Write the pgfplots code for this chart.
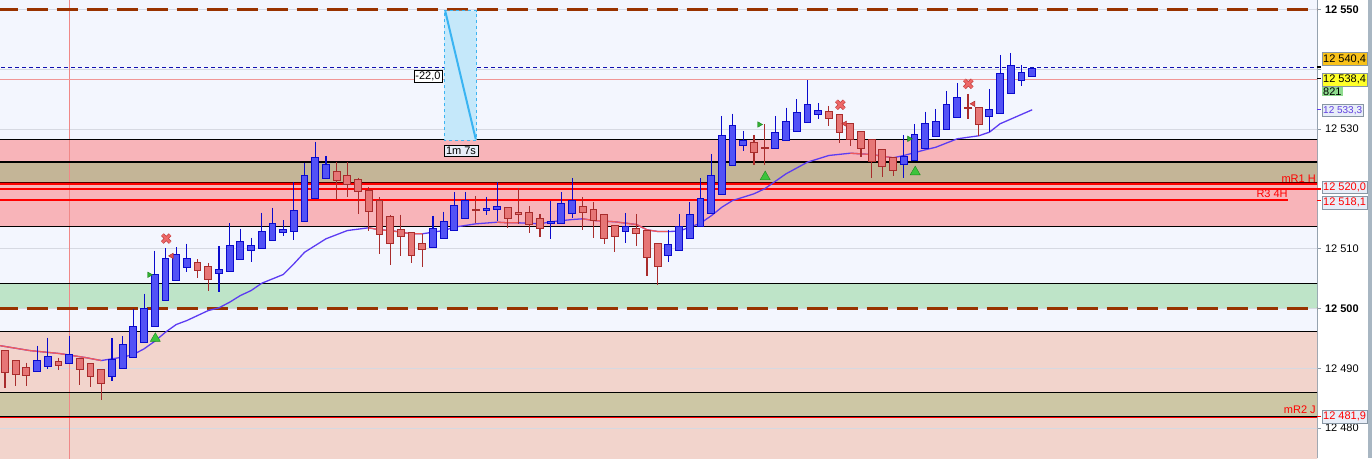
\documentclass[border=0pt]{standalone}
\usepackage{pgfplots}
\pgfplotsset{compat=1.18}
\usepackage{pgfplotstable}
\usepackage{fontspec}
\setmainfont{Liberation Sans}

\definecolor{bgc}{HTML}{F3F6FE}
\definecolor{pinkz}{HTML}{F8B4B9}
\definecolor{tanz}{HTML}{C4B597}
\definecolor{greenz}{HTML}{BEE4C8}
\definecolor{salmz}{HTML}{F2D4CC}
\definecolor{khakz}{HTML}{CDC7A5}
\definecolor{gridc}{HTML}{D6D9E2}
\definecolor{upfill}{HTML}{5252F6}
\definecolor{upline}{HTML}{0A0ACC}
\definecolor{dnfill}{HTML}{E67676}
\definecolor{dnline}{HTML}{A82C2C}
\definecolor{maup}{HTML}{5C3CF2}
\definecolor{madn}{HTML}{F05A5A}
\definecolor{lvl}{HTML}{993300}
\definecolor{axisc}{HTML}{8896A4}
\definecolor{boxbg}{HTML}{E8EEF8}
\definecolor{annfill}{HTML}{C5E8FA}
\definecolor{annline}{HTML}{3AB4F2}
\definecolor{scrollc}{HTML}{A8B6C2}

% candle pieces: lengths come in pt (price span times 5.9803pt per point)
\pgfdeclareplotmark{cwick}{%
  \pgfpathmoveto{\pgfpointorigin}%
  \pgfpathlineto{\pgfpoint{0pt}{-\wlen pt}}%
  \pgfusepathqstroke}
\pgfdeclareplotmark{cbody}{%
  \pgfpathrectanglecorners{\pgfpoint{-3.4pt}{0.5pt}}{\pgfpoint{3.4pt}{-\blen pt-0.5pt}}%
  \pgfusepathqfillstroke}

% bullish candles (blue)
\pgfplotstableread{
i O H L C
3 12489.58 12493.80 12489.35 12491.25
4 12490.42 12495.15 12489.85 12491.92
6 12490.92 12495.48 12490.90 12492.26
10 12488.74 12495.04 12487.84 12491.42
11 12490.08 12495.32 12490.00 12493.93
12 12491.92 12499.88 12491.90 12496.94
13 12494.43 12502.50 12494.40 12500.00
14 12497.10 12509.70 12497.00 12505.63
15 12501.39 12510.08 12501.30 12508.31
16 12504.80 12510.25 12504.80 12508.98
17 12506.97 12510.87 12506.07 12508.31
20 12505.97 12510.37 12502.72 12506.47
21 12506.31 12514.22 12506.30 12510.49
22 12508.31 12513.37 12508.30 12511.16
23 12509.82 12511.87 12507.74 12510.49
24 12510.15 12516.05 12510.10 12512.83
25 12511.48 12516.89 12511.40 12514.16
26 12512.83 12514.72 12512.16 12513.16
27 12512.99 12521.19 12511.48 12516.34
28 12514.66 12524.41 12514.60 12522.19
29 12518.51 12527.88 12518.50 12525.20
30 12521.86 12525.54 12521.80 12524.03
40 12510.32 12515.50 12510.30 12513.33
41 12511.82 12516.22 12511.80 12514.50
42 12513.16 12519.51 12513.10 12517.17
43 12515.17 12519.51 12515.00 12518.00
45 12516.50 12518.68 12515.66 12516.70
46 12516.67 12521.19 12514.66 12517.00
51 12514.33 12518.00 12511.66 12514.50
52 12514.33 12519.51 12514.30 12517.50
53 12516.00 12521.86 12515.17 12518.00
58 12513.00 12516.00 12510.99 12513.66
62 12508.98 12513.16 12507.81 12510.65
63 12509.82 12515.83 12509.80 12513.66
64 12511.82 12517.84 12511.80 12515.66
65 12513.83 12521.86 12513.80 12518.34
66 12516.00 12525.87 12516.00 12522.19
67 12519.18 12532.22 12519.10 12528.88
68 12524.03 12532.60 12524.00 12530.55
69 12527.37 12529.71 12526.37 12528.04
72 12526.87 12532.22 12526.80 12529.38
73 12528.21 12533.60 12528.20 12531.22
74 12529.71 12534.95 12529.70 12532.72
75 12531.22 12538.13 12531.20 12534.06
76 12532.56 12534.40 12531.73 12533.06
84 12524.20 12529.05 12521.86 12525.37
85 12524.87 12530.89 12524.85 12529.05
86 12526.87 12532.94 12526.80 12530.89
87 12528.88 12533.39 12528.80 12531.22
88 12530.05 12536.40 12530.00 12534.06
89 12532.06 12537.74 12532.00 12535.23
92 12532.22 12536.74 12529.55 12533.23
93 12532.72 12542.43 12532.70 12539.25
94 12536.07 12542.76 12536.00 12540.59
95 12538.24 12540.75 12537.24 12539.41
96 12538.90 12540.42 12538.90 12540.08
}\up

% bearish candles (red)
\pgfplotstableread{
i O H L C
0 12492.90 12493.00 12486.70 12489.40
1 12491.25 12491.30 12487.10 12489.00
2 12490.13 12490.97 12487.10 12488.85
5 12491.09 12491.80 12489.68 12490.52
7 12491.60 12491.60 12487.20 12489.90
8 12490.75 12490.80 12486.83 12488.68
9 12489.75 12489.80 12484.67 12487.57
18 12507.64 12508.20 12505.07 12506.47
19 12506.97 12507.64 12502.90 12504.90
31 12522.86 12524.53 12518.18 12521.52
32 12522.19 12524.53 12518.68 12520.85
33 12521.52 12521.90 12515.83 12519.68
34 12519.68 12520.30 12513.00 12516.34
35 12518.00 12518.60 12509.15 12512.49
36 12515.33 12515.65 12507.31 12511.00
37 12513.16 12515.72 12508.81 12512.16
38 12512.66 12512.70 12507.64 12508.98
39 12510.82 12512.49 12506.97 12509.98
44 12516.50 12518.84 12514.33 12516.50
47 12516.84 12516.90 12513.50 12515.17
48 12516.00 12520.18 12514.17 12515.80
49 12516.00 12517.17 12512.66 12514.17
50 12515.00 12515.83 12512.00 12513.50
54 12517.00 12518.68 12513.16 12516.17
55 12516.50 12517.84 12511.82 12514.83
56 12515.67 12515.80 12510.82 12511.82
57 12513.83 12513.90 12509.48 12512.16
59 12513.33 12515.83 12510.48 12512.66
60 12513.00 12513.00 12505.47 12508.64
61 12510.82 12510.90 12503.96 12507.14
70 12527.70 12529.05 12524.03 12526.20
71 12526.87 12530.77 12524.03 12526.87
77 12532.89 12533.90 12530.55 12531.89
78 12532.39 12532.40 12527.70 12529.55
79 12530.89 12531.00 12527.20 12528.38
80 12529.55 12529.60 12525.37 12526.87
81 12528.21 12528.30 12521.86 12524.70
82 12526.54 12526.60 12522.03 12523.86
83 12525.20 12525.40 12522.20 12523.19
90 12533.56 12535.90 12531.73 12533.56
91 12533.56 12533.60 12528.88 12530.89
}\dn

% moving average
\pgfplotstableread{
i v
-0.5 12493.80
2.3 12492.97
5.1 12492.47
7.5 12491.80
9 12491.30
10 12491.59
11 12491.86
12 12492.31
13 12493.26
14 12494.53
15 12496.04
16 12497.32
17 12497.99
19 12499.66
20 12500.12
21 12501.06
22 12502.17
23 12503.00
24 12504.23
26 12505.68
27 12507.47
28 12509.41
30 12511.66
32 12513.04
34 12513.50
35 12513.16
36 12513.04
38 12512.49
39 12512.49
41 12513.04
42 12513.60
44 12514.16
46 12514.43
47 12514.33
48 12514.33
50 12514.16
51 12514.50
53 12514.88
54 12515.00
55 12514.72
57 12514.50
59 12514.05
60 12513.16
61 12512.88
62 12512.88
63 12512.93
64 12513.60
65 12514.27
66 12515.50
67 12516.94
68 12518.06
70 12519.18
71 12520.02
73 12522.53
75 12524.47
77 12525.59
79 12525.97
81 12525.75
83 12525.20
84 12525.58
86 12526.54
87 12526.97
89 12528.38
91 12528.88
92 12529.48
93 12530.89
96 12533.23
}\ma

\begin{document}
\begin{tikzpicture}
\fill[white] (0,0) rectangle (1372pt,458pt);
\fill[scrollc] (1367.5pt,0) rectangle (1372pt,458pt);
\begin{axis}[
    scale only axis,
    width=1317pt, height=458pt,
    xmin=-0.467, xmax=122.62,
    ymin=12474.92, ymax=12551.505,
    axis x line=none, axis y line*=right,
    xtick=\empty,
    scaled y ticks=false,
    ytick={12480,12490,12500,12510,12520,12530,12540,12550},
    yticklabels={12 480,12 490,\textbf{12 500},12 510,,12 530,,\textbf{12 550}},
    axis line style={axisc, line width=1pt},
    tick style={axisc, line width=0.8pt},
    tick align=outside, major tick length=4pt,
    yticklabel style={font=\fontsize{11}{12}\selectfont, anchor=west, xshift=0.5pt},
    clip mode=individual,
]
% zones
\addplot[fill=bgc, draw=none, forget plot] coordinates {(-1,12470) (124,12470) (124,12560) (-1,12560)};
\addplot[fill=pinkz, draw=none, forget plot] coordinates {(-1,12524.5) (124,12524.5) (124,12528.2) (-1,12528.2)};
\addplot[fill=tanz, draw=none, forget plot] coordinates {(-1,12520.8) (124,12520.8) (124,12524.5) (-1,12524.5)};
\addplot[fill=pinkz, draw=none, forget plot] coordinates {(-1,12513.66) (124,12513.66) (124,12520.8) (-1,12520.8)};
\addplot[fill=greenz, draw=none, forget plot] coordinates {(-1,12500) (124,12500) (124,12504.13) (-1,12504.13)};
\addplot[fill=salmz, draw=none, forget plot] coordinates {(-1,12485.9) (124,12485.9) (124,12496.2) (-1,12496.2)};
\addplot[fill=khakz, draw=none, forget plot] coordinates {(-1,12481.9) (124,12481.9) (124,12485.9) (-1,12485.9)};
\addplot[fill=salmz, draw=none, forget plot] coordinates {(-1,12470) (124,12470) (124,12481.9) (-1,12481.9)};
% grid
\pgfplotsinvokeforeach{12480,12490,12500,12510,12520,12530,12540,12550}{
  \addplot[gridc, line width=0.8pt, forget plot] coordinates {(-1,#1) (124,#1)};
}
% vertical marker
\addplot[color={rgb,255:red,240;green,136;blue,136}, line width=0.9pt, forget plot] coordinates {(6.07,12470) (6.07,12560)};
% zone borders
\pgfplotsinvokeforeach{12528.2,12524.5,12513.66,12504.13,12496.2,12485.9}{
  \addplot[black, line width=1.1pt, forget plot] coordinates {(-1,#1) (124,#1)};
}
\addplot[black, line width=1.1pt, forget plot] coordinates {(-1,12481.9) (124,12481.9)};
\addplot[red, line width=1.2pt, forget plot] coordinates {(-1,12481.75) (124,12481.75)};
% red levels
\addplot[black!70!red, line width=1pt, forget plot] coordinates {(-1,12521.0) (124,12521.0)};
\addplot[red, line width=2pt, forget plot] coordinates {(-1,12520.75) (124,12520.75)};
\addplot[red, line width=2pt, forget plot] coordinates {(-1,12520.0) (124,12520.0)};
\addplot[red, line width=2pt, forget plot] coordinates {(-1,12518.1) (119.9,12518.1)};
% dashed levels
\addplot[lvl, line width=2.2pt, dash pattern=on 21pt off 9pt, forget plot] coordinates {(-0.776,12550) (124,12550)};
\addplot[lvl, line width=2.2pt, dash pattern=on 21pt off 9pt, forget plot] coordinates {(-0.776,12500) (124,12500)};
\addplot[color={rgb,255:red,16;green,16;blue,176}, line width=1pt, dash pattern=on 4pt off 3pt, forget plot] coordinates {(-1,12540.3) (124,12540.3)};
\addplot[color={rgb,255:red,240;green,150;blue,150}, line width=1pt, forget plot] coordinates {(-1,12538.3) (124,12538.3)};
% time / price measurement
\addplot[fill=annfill, draw=annline, dashed, line width=0.8pt, forget plot] coordinates {(41.06,12549.83) (44.08,12549.83) (44.08,12528.17) (41.06,12528.17) (41.06,12549.83)};
\addplot[annline, line width=2pt, forget plot] coordinates {(41.15,12549.7) (44.0,12528.3)};
% moving average
\addplot[maup, line width=1.3pt, forget plot] table[x=i, y=v] {\ma};
\addplot[madn, line width=1.3pt, forget plot] coordinates {(-0.5,12493.80) (2.3,12492.97) (5.1,12492.47) (7.5,12491.80) (9,12491.30)};
\addplot[madn, line width=1.3pt, forget plot] coordinates {(34,12513.50) (35,12513.16) (36,12513.04) (38,12512.49) (39,12512.49)};
\addplot[madn, line width=1.3pt, forget plot] coordinates {(46,12514.43) (47,12514.33) (48,12514.33)};
\addplot[madn, line width=1.3pt, forget plot] coordinates {(54,12515.00) (55,12514.72) (57,12514.50) (59,12514.05) (60,12513.16) (61,12512.88) (62,12512.88)};
\addplot[madn, line width=1.3pt, forget plot] coordinates {(79,12525.97) (81,12525.75) (83,12525.20)};
% wicks
\addplot[scatter, only marks, mark=cwick, forget plot,
  scatter/use mapped color={draw=upline}, mark options={line width=1.1pt},
  visualization depends on={(\thisrow{H}-\thisrow{L})*5.9803 \as \wlen}]
  table[x=i, y=H] {\up};
\addplot[scatter, only marks, mark=cwick, forget plot,
  scatter/use mapped color={draw=dnline}, mark options={line width=1.1pt},
  visualization depends on={(\thisrow{H}-\thisrow{L})*5.9803 \as \wlen}]
  table[x=i, y=H] {\dn};
% bodies
\addplot[scatter, only marks, mark=cbody, forget plot,
  scatter/use mapped color={draw=upline, fill=upfill}, mark options={line width=1pt},
  visualization depends on={(\thisrow{C}-\thisrow{O})*5.9803 \as \blen}]
  table[x=i, y=C] {\up};
\addplot[scatter, only marks, mark=cbody, forget plot,
  scatter/use mapped color={draw=dnline, fill=dnfill}, mark options={line width=1pt},
  visualization depends on={(\thisrow{O}-\thisrow{C})*5.9803 \as \blen}]
  table[x=i, y=O] {\dn};
% signals
\addplot[only marks, mark=triangle*, mark size=5.8pt, mark options={fill={rgb,255:red,60;green,196;blue,60}, draw={rgb,255:red,26;green,138;blue,26}}, forget plot]
  coordinates {(14.05,12494.98) (71.05,12522.01) (85.07,12522.84)};
\addplot[only marks, mark=x, mark size=5.5pt, mark options={draw={rgb,255:red,190;green,60;blue,60}, line width=3.8pt}, forget plot]
  coordinates {(15.07,12511.7) (78.07,12534.07) (90.03,12537.58)};
\addplot[only marks, mark=x, mark size=5.5pt, mark options={draw={rgb,255:red,238;green,104;blue,104}, line width=2.4pt}, forget plot]
  coordinates {(15.07,12511.7) (78.07,12534.07) (90.03,12537.58)};
\addplot[only marks, mark=triangle*, mark size=3.2pt, mark options={rotate=-90, fill={rgb,255:red,48;green,176;blue,48}, draw={rgb,255:red,30;green,130;blue,30}}, forget plot]
  coordinates {(13.49,12505.64) (70.5,12530.77) (84.51,12528.38)};
\addplot[only marks, mark=triangle*, mark size=3.2pt, mark options={rotate=90, fill={rgb,255:red,224;green,80;blue,80}, draw={rgb,255:red,170;green,40;blue,40}}, forget plot]
  coordinates {(15.58,12508.8) (78.5,12530.89) (90.5,12534.23)};
% annotation labels
\node[draw=black, fill=white, inner xsep=1.5pt, inner ysep=1.5pt, font=\fontsize{11}{12}\selectfont] at (axis cs:39.53,12538.9) {-22,0};
\node[draw=black, fill=boxbg, inner xsep=2pt, inner ysep=1.5pt, font=\fontsize{11}{12}\selectfont] at (axis cs:42.62,12526.35) {1m 7s};
\node[anchor=base east, text=red, inner sep=0pt, font=\fontsize{11}{12}\selectfont] at (axis cs:122.52,12521.1) {mR1 H};
\node[anchor=base east, text=red, inner sep=0pt, font=\fontsize{11}{12}\selectfont] at (axis cs:119.9,12518.6) {R3 4H};
\node[anchor=base east, text=red, inner sep=0pt, font=\fontsize{11}{12}\selectfont] at (axis cs:122.52,12482.5) {mR2 J};
% price tags on the scale
\draw[black, line width=1.2pt] (axis cs:122.62,12540.4) -- ([xshift=4pt]axis cs:122.62,12540.4);
\draw[black, line width=1.2pt] (axis cs:122.62,12538.4) -- ([xshift=4pt]axis cs:122.62,12538.4);
\draw[maup, line width=1.2pt] (axis cs:122.62,12533.3) -- ([xshift=4pt]axis cs:122.62,12533.3);
\draw[red, line width=1.2pt] (axis cs:122.62,12520.0) -- ([xshift=4pt]axis cs:122.62,12520.0);
\draw[red, line width=1.2pt] (axis cs:122.62,12518.1) -- ([xshift=4pt]axis cs:122.62,12518.1);
\draw[red, line width=1.2pt] (axis cs:122.62,12481.9) -- ([xshift=4pt]axis cs:122.62,12481.9);
\node[anchor=west, draw=axisc, fill={rgb,255:red,249;green,194;blue,26}, inner xsep=1.5pt, inner ysep=1.8pt, font=\fontsize{11}{12}\selectfont] at ([xshift=4.5pt]axis cs:122.62,12541.72) {12 540,4};
\node[anchor=west, draw=axisc, fill={rgb,255:red,255;green,255;blue,40}, inner xsep=1.5pt, inner ysep=1.8pt, font=\fontsize{11}{12}\selectfont] at ([xshift=4.5pt]axis cs:122.62,12538.3) {12 538,4};
\node[anchor=west, fill={rgb,255:red,142;green,219;blue,142}, inner xsep=1.5pt, inner ysep=0.5pt, font=\fontsize{11}{11}\selectfont] at ([xshift=4.5pt]axis cs:122.62,12536.29) {821};
\node[anchor=west, draw=axisc, fill=boxbg, text={rgb,255:red,96;green,64;blue,224}, inner xsep=1.5pt, inner ysep=1.5pt, font=\fontsize{10}{11}\selectfont] at ([xshift=4.5pt]axis cs:122.62,12533.16) {12 533,3};
\node[anchor=west, draw=axisc, fill=boxbg, text=red, inner xsep=1.5pt, inner ysep=1.8pt, font=\fontsize{11}{12}\selectfont] at ([xshift=4.5pt]axis cs:122.62,12520.28) {12 520,0};
\node[anchor=west, draw=axisc, fill=boxbg, text=red, inner xsep=1.5pt, inner ysep=1.8pt, font=\fontsize{11}{12}\selectfont] at ([xshift=4.5pt]axis cs:122.62,12517.73) {12 518,1};
\node[anchor=west, draw=axisc, fill=boxbg, text=red, inner xsep=1.5pt, inner ysep=1.8pt, font=\fontsize{11}{12}\selectfont] at ([xshift=4.5pt]axis cs:122.62,12481.9) {12 481,9};
\end{axis}
\end{tikzpicture}
\end{document}
